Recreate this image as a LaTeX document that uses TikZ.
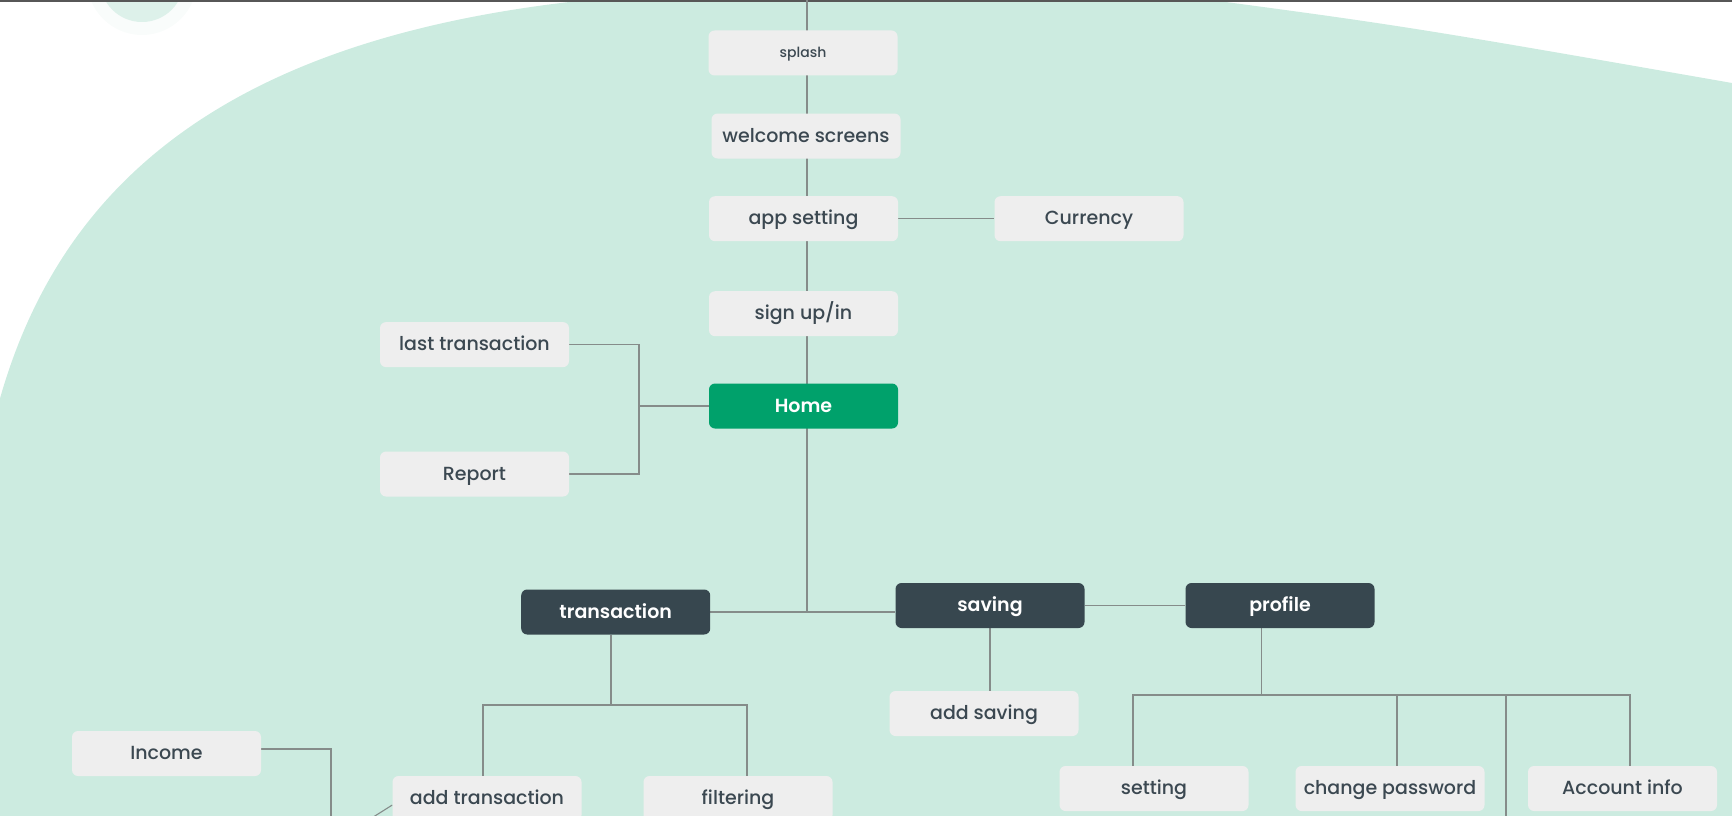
\documentclass[tikz,border=0pt]{standalone}
\usepackage{fontspec}
\setmainfont{Poppins}[BoldFont={Poppins SemiBold}]
\newfontfamily\medfont{Poppins Medium}
\definecolor{blobc}{HTML}{CCEBE0}
\definecolor{dotc}{HTML}{DDF1EA}
\definecolor{haloc}{HTML}{F9FCFB}
\definecolor{boxbg}{HTML}{EEEEEE}
\definecolor{txt}{HTML}{3B4851}
\definecolor{darkc}{HTML}{37474F}
\definecolor{homec}{HTML}{00A16B}
\definecolor{wirec}{HTML}{858C8A}
\definecolor{barc}{HTML}{575757}
\pgfdeclarelayer{blobs}
\pgfdeclarelayer{wires}
\pgfsetlayers{blobs,wires,main}
\tikzset{
  box/.style={rectangle, rounded corners=6pt, minimum width=189pt, minimum height=45pt,
    inner sep=0pt, text height=14pt, text depth=2pt,
    font=\medfont\fontsize{19}{21}\selectfont, text=txt},
  lightbox/.style={box, fill=boxbg},
  darkbox/.style={box, fill=darkc, text=white, font=\fontsize{19}{21}\selectfont\bfseries},
  homebox/.style={box, fill=homec, text=white, font=\fontsize{19}{21}\selectfont\bfseries},
  wire/.style={draw=wirec, line width=1.1pt},
}
\begin{document}
\begin{tikzpicture}[x=1pt, y=-1pt]
\useasboundingbox (0,0) rectangle (1732,816);
% nodes
\node[lightbox, font=\medfont\fontsize{14}{16}\selectfont, text height=10pt, text depth=1.5pt] (splash) at (803,53) {splash};
\node[lightbox] (welcome) at (806,136) {welcome screens};
\node[lightbox] (appset) at (803.5,218.7) {app setting};
\node[lightbox] (currency) at (1089,218.7) {Currency};
\node[lightbox] (sign) at (803.5,313.7) {sign up/in};
\node[lightbox] (last) at (474.5,344.6) {last transaction};
\node[homebox] (home) at (803.5,406) {Home};
\node[lightbox] (report) at (474.5,474) {Report};
\node[darkbox] (trans) at (615.7,612) {transaction};
\node[darkbox] (saving) at (990,605.5) {saving};
\node[darkbox] (profile) at (1280,605.5) {profile};
\node[lightbox] (addsav) at (984,713.5) {add saving};
\node[lightbox] (income) at (166.5,753.5) {Income};
\node[lightbox] (addtr) at (487,798.5) {add transaction};
\node[lightbox] (filter) at (738,798.5) {filtering};
\node[lightbox] (setting) at (1154,788.5) {setting};
\node[lightbox] (chpw) at (1390,788.5) {change password};
\node[lightbox] (acct) at (1622.5,788.5) {Account info};
% junction coordinates
\coordinate (spinetop) at (807,0);
\coordinate (lhub) at (639,406);
\coordinate (tbus) at (611,705);
\coordinate (tl) at (483,705);
\coordinate (tr) at (747,705);
\coordinate (pbus) at (1261.5,695);
\coordinate (p1) at (1133,695);
\coordinate (p2) at (1397,695);
\coordinate (p3) at (1506,695);
\coordinate (p4) at (1630,695);
\coordinate (p3end) at (1506,830);
\coordinate (ib) at (331,749);
\coordinate (ibend) at (331,830);
\coordinate (dg) at (359,826);
\begin{pgfonlayer}{blobs}
  \fill[blobc] (-5,417) .. controls (55,180) and (235,20) .. (660,-6)
     -- (1150,-8) .. controls (1400,25) .. (1732,83)
     -- (1740,83) -- (1740,822) -- (-5,822) -- cycle;
  \fill[haloc] (142,-20) circle[radius=55];
  \fill[dotc] (142,-20) circle[radius=42];
  \fill[barc] (0,0) rectangle (1732,2.5);
\end{pgfonlayer}
\begin{pgfonlayer}{wires}
  \draw[wire] (spinetop) -- (spinetop |- trans.east);
  \draw[wire] (appset.east) -- (currency.west);
  \draw[wire] (home.west) -- (lhub);
  \draw[wire] (last.east) -| (lhub) |- (report.east);
  \draw[wire] (trans.east) -- (trans.east -| saving.west);
  \draw[wire] (saving.east) -- (profile.west);
  \draw[wire] (saving.south) -- (saving.south |- addsav.north);
  \draw[wire] (trans.south -| tbus) -- (tbus);
  \draw[wire] (addtr.north -| tl) -- (tl) -- (tr) -- (filter.north -| tr);
  \draw[wire] (profile.south -| pbus) -- (pbus);
  \draw[wire] (setting.north -| p1) -- (p1) -- (p4) -- (acct.north -| p4);
  \draw[wire] (chpw.north -| p2) -- (p2);
  \draw[wire] (p3) -- (p3end);
  \draw[wire] (income.east |- ib) -- (ib) -- (ibend);
  \draw[wire] ([yshift=-6.5pt]addtr.west) -- (dg);
\end{pgfonlayer}
\end{tikzpicture}
\end{document}
